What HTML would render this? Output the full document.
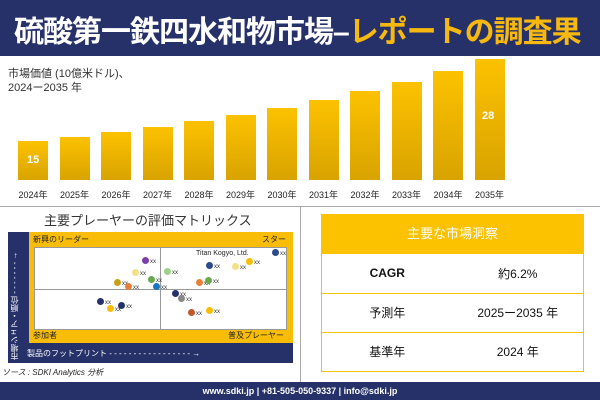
<!DOCTYPE html><html><head><meta charset="utf-8"><style>
*{margin:0;padding:0;box-sizing:border-box}
body{width:600px;height:400px;position:relative;background:#fff;font-family:"Liberation Sans","Noto Sans CJK JP",sans-serif;overflow:hidden}
.a{position:absolute}
.bar{position:absolute;width:30px;bottom:220px;background:linear-gradient(#fcc200,#d9a300)}
.yl{position:absolute;top:188px;font-size:9px;color:#222;width:40px;text-align:center}
.d{position:absolute;width:7px;height:7px;border-radius:50%}
.x{position:absolute;font-size:6px;color:#333}
td{border-bottom:1px solid #f5c400;height:39px;text-align:center;font-size:12px;color:#111}
</style></head><body>
<div class="a" style="left:0;top:0;width:600px;height:56px;background:#263169"></div>
<div class="a" style="left:14px;top:7px;font-size:30px;font-weight:bold;color:#fff;white-space:nowrap;letter-spacing:-1px">硫酸第一鉄四水和物市場–<span style="color:#f7b90f">レポートの調査果</span></div>
<div class="a" style="left:8px;top:67px;font-size:11px;color:#333;line-height:14px">市場価値 (10億米ドル)、<br>2024ー2035 年</div>
<div id="bars"></div>
<div class="a" style="left:0;top:206px;width:600px;height:1px;background:#aaa"></div>
<div class="a" style="left:300px;top:206px;width:1px;height:176px;background:#aaa"></div>
<div class="a" style="left:44px;top:210px;font-size:13px;color:#333">主要プレーヤーの評価マトリックス</div>
<div class="a" style="left:8px;top:232px;width:285px;height:131px;background:#263169"></div>
<div class="a" style="left:29px;top:232px;width:264px;height:111px;background:#f9bd07"></div>
<div class="a" style="left:34px;top:247px;width:253px;height:83px;background:#fff;border:1px solid #999"></div>
<div class="a" style="left:160px;top:247px;width:1px;height:83px;background:#999"></div>
<div class="a" style="left:34px;top:289px;width:253px;height:1px;background:#999"></div>
<div class="a" style="left:33px;top:234px;font-size:8px;color:#222">新興のリーダー</div>
<div class="a" style="left:262px;top:234px;font-size:8px;color:#222">スター</div>
<div class="a" style="left:33px;top:330px;font-size:8px;color:#222">参加者</div>
<div class="a" style="left:228px;top:330px;font-size:8px;color:#222">普及プレーヤー</div>
<div class="a" style="left:196px;top:250px;font-size:7px;color:#222">Titan Kogyo, Ltd.</div>
<div class="a" style="left:27px;top:348px;font-size:8px;color:#fff;white-space:nowrap">製品のフットプリント - - - - - - - - - - - - - - - - - →</div>
<div class="a" style="left:9px;top:238px;width:14px;height:122px;color:#fff;font-size:8px;writing-mode:vertical-rl;transform:rotate(180deg);white-space:nowrap">市場シェア・順位 - - - - - - - →</div>
<div id="dots"></div>
<div class="a" style="left:2px;top:367px;font-size:8px;font-style:italic;color:#222">ソース : SDKI Analytics 分析</div>
<div class="a" style="left:321px;top:214px;width:263px;height:158px;border:1px solid #f5c400"></div>
<div class="a" style="left:321px;top:214px;width:263px;height:40px;background:#fcc200;color:#fff;font-size:13px;text-align:center;line-height:40px">主要な市場洞察</div>
<table class="a" style="left:322px;top:254px;width:261px;border-collapse:collapse">
<tr><td style="width:50%;font-weight:bold">CAGR</td><td>約6.2%</td></tr>
<tr><td>予測年</td><td>2025ー2035 年</td></tr>
<tr><td>基準年</td><td>2024 年</td></tr></table>
<div class="a" style="left:0;top:382px;width:600px;height:18px;background:#263169;color:#fff;font-size:9px;font-weight:bold;text-align:center;line-height:18px">www.sdki.jp | +81-505-050-9337 | info@sdki.jp</div>
<script>
var t=[141,137,132,127,121,115,108,100,91,82,71,59],h='';
t.forEach(function(v,i){var x=18+i*41.5;h+='<div class="bar" style="left:'+x+'px;top:'+v+'px;height:'+(180-v)+'px"></div><div class="yl" style="left:'+(x-5)+'px">'+(2024+i)+'年</div>';});
h+='<div class="a" style="left:27px;top:154px;color:#fff;font-weight:bold;font-size:11px">15</div><div class="a" style="left:482px;top:110px;color:#fff;font-weight:bold;font-size:11px">28</div>';
document.getElementById('bars').innerHTML=h;
var d=[[145,260,'#7b3fa6'],[135,272,'#f5e08a'],[117,282,'#c8a018'],[151,279,'#6aa84f'],[167,271,'#9fd08a'],[209,265,'#2d4a8a'],[235,266,'#f5e08a'],[249,261,'#f9bd07'],[275,252,'#2d4a8a'],[199,282,'#e8803a'],[208,280,'#6aa84f'],[128,286,'#e8803a'],[156,286,'#1a78c2'],[100,301,'#263169'],[110,308,'#f9bd07'],[121,305,'#263169'],[175,293,'#263169'],[181,298,'#888'],[191,312,'#c0582a'],[209,310,'#f9bd07']],s='';
d.forEach(function(p){s+='<div class="d" style="left:'+(p[0]-3)+'px;top:'+(p[1]-3)+'px;background:'+p[2]+'"></div><div class="x" style="left:'+(p[0]+5)+'px;top:'+(p[1]-1)+'px">xx</div>';});
document.getElementById('dots').innerHTML=s;
</script>
</body></html>
